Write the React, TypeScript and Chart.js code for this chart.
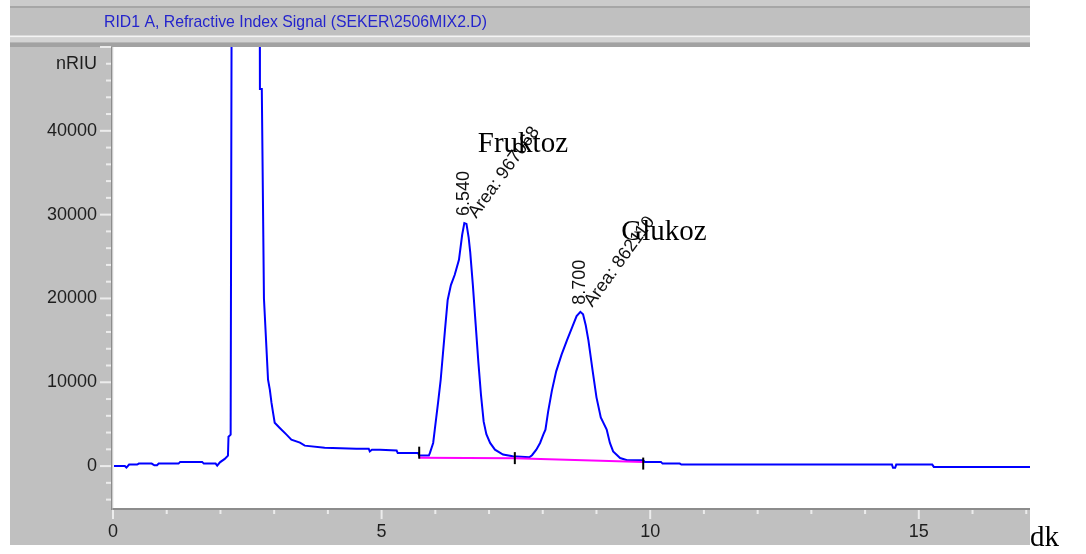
import { useEffect, useRef } from 'react';
import { Chart, registerables } from 'chart.js';

Chart.register(...registerables);

const TITLE = 'RID1 A, Refractive Index Signal (SEKER\\2506MIX2.D)';
const X_UNIT = 'dk';
const Y_UNIT = 'nRIU';

// RID signal: retention time (min) and response (nRIU)
const signalTime = [
  0, 0.22, 0.25, 0.3, 0.45, 0.48, 0.72, 0.77, 0.82, 0.85, 1.22, 1.25, 1.66, 1.69, 1.91, 1.94, 1.99, 2.08, 2.14,
  2.15, 2.19, 2.21, 2.73, 2.735, 2.77, 2.81, 2.886, 2.92, 2.95, 2.98, 3.01, 3.1, 3.23, 3.32, 3.48, 3.57,
  3.94, 4.53, 4.76, 4.78, 4.82, 4.97, 5.28, 5.3, 5.68, 5.7, 5.88, 5.9, 5.96, 5.99, 6.05, 6.1, 6.18, 6.23, 6.29,
  6.36, 6.44, 6.5, 6.54, 6.58, 6.62, 6.65, 6.7, 6.75, 6.8, 6.85, 6.9, 6.95, 7.02, 7.11, 7.26, 7.44, 7.75, 7.8, 7.88,
  7.95, 8.01, 8.05, 8.1, 8.17, 8.25, 8.35, 8.45, 8.55, 8.63, 8.7, 8.75, 8.8, 8.85, 8.93, 9.0, 9.08, 9.19, 9.25, 9.31,
  9.44, 9.57, 9.87, 9.9, 10.2, 10.23, 10.55, 10.58, 14.5, 14.52, 14.56, 14.58, 15.25, 15.28, 17.07,
];
const signalValue = [
  0, 0, -180, 180, 180, 300, 300, 100, 100, 300, 300, 500, 500, 300, 300, 60, 450, 860, 1250,
  3500, 3750, 60000, 60000, 45000, 45000, 20000, 10300, 9100, 7560, 6350, 5180, 4580, 3750, 3150, 2800, 2440,
  2200, 2080, 2080, 1750, 1950, 1950, 1850, 1550, 1550, 1250, 1250, 1570, 2760, 4350, 7500, 10300, 16250, 19820, 21600,
  22800, 24600, 27600, 29000, 28900, 27300, 25500, 21500, 17000, 12500, 8500, 5300, 3800, 2760, 1960, 1370, 1170, 1050, 1300, 1960,
  2760, 3750, 4350, 6500, 9000, 11300, 13300, 15000, 16600, 17900, 18400, 18100, 16800, 15000, 11300, 8200, 5800, 4350, 2760, 1750,
  960, 690, 690, 500, 500, 300, 300, 180, 180, -210, -210, 180, 180, -95, -95,
];

// integration baseline and peak start/end marks
const baselineTime = [5.7, 7.48, 9.87];
const baselineValue = [1000, 950, 480];
const markTime = [5.7, 7.48, 9.87];
const markValue = [1600, 950, 300];

// integrated peaks
const peakTime = [6.54, 8.7];
const peakHeight = [29000, 18400];
const peakArea = ['967068', '862110'];
const peakName = ['Fruktoz', 'Glukoz'];

// axis tick spacing
const Y_MINOR = 2000;
const Y_MAJOR = 10000;
const Y_UNIT_AT = 48000;
const X_MINOR = 1;
const X_MAJOR = 5;

const SANS = '"Liberation Sans", Arial, sans-serif';
const SERIF = '"Liberation Serif", "Times New Roman", serif';

const pts = (xs: number[], ys: number[]) => xs.map((x, i) => ({ x, y: ys[i] }));

// ticks on whole multiples of the step inside the axis range
const stepTicks = (scale: any, step: number) => {
  const out: { value: number }[] = [];
  const first = Math.ceil(scale.min / step) * step;
  for (let v = first; v <= scale.max + 1e-9; v += step) out.push({ value: Math.round(v * 1000) / 1000 });
  scale.ticks = out;
};

// grey instrument panel, header strip and white plotting field
const panelPlugin = {
  id: 'panel',
  beforeDraw(chart: any) {
    const { ctx, chartArea: a } = chart;
    const w = a.right - 10;
    ctx.save();
    ctx.fillStyle = '#c0c0c0';
    ctx.fillRect(10, 0, w, 545);
    ctx.fillStyle = '#cbcbcb';
    ctx.fillRect(10, 0, w, 6);
    ctx.fillStyle = '#a6a6a6';
    ctx.fillRect(10, 6, w, 2);
    ctx.fillStyle = '#f4f4f4';
    ctx.fillRect(10, 35.5, w, 2);
    ctx.fillStyle = '#d3d3d3';
    ctx.fillRect(10, 37.5, w, 5);
    ctx.fillStyle = '#a2a2a2';
    ctx.fillRect(10, 42.5, w, 4.5);
    ctx.fillStyle = '#ffffff';
    ctx.fillRect(a.left, a.top, a.right - a.left, a.bottom - a.top);
    ctx.font = `17px ${SANS}`;
    ctx.fillStyle = '#2424cc';
    ctx.textBaseline = 'middle';
    ctx.textAlign = 'left';
    ctx.fillText(TITLE, 104, 22.5, 383);
    ctx.restore();
  },
  afterDraw(chart: any) {
    const { ctx, chartArea: a, scales } = chart;
    const xs = scales.x;
    const ys = scales.y;
    ctx.save();
    // axis lines
    ctx.fillStyle = '#8c8c8c';
    ctx.fillRect(a.left - 2, a.top, 1.5, a.bottom - a.top + 2);
    ctx.fillRect(a.left, a.bottom, a.right - a.left, 2);
    ctx.fillStyle = '#f2f2f2';
    ctx.fillRect(a.left - 0.5, a.top, 1.5, a.bottom - a.top);
    // tick marks
    ctx.fillStyle = '#ececec';
    ys.ticks.forEach((t: any) => {
      const py = ys.getPixelForValue(t.value);
      const len = t.value % Y_MAJOR === 0 ? 11 : 5;
      ctx.fillRect(a.left - 2 - len, py - 1, len, 2);
    });
    xs.ticks.forEach((t: any) => {
      const px = xs.getPixelForValue(t.value);
      const len = t.value % X_MAJOR === 0 ? 9 : 4;
      ctx.fillRect(px - 1, a.bottom + 2, 2, len);
    });
    ctx.restore();
  },
};

// retention times, areas and compound names
const labelPlugin = {
  id: 'peakLabels',
  afterDatasetsDraw(chart: any) {
    const { ctx, chartArea: a, scales } = chart;
    const nameOffset = [
      [13.5, -71],
      [41, -72],
    ];
    ctx.save();
    peakTime.forEach((t, i) => {
      const px = scales.x.getPixelForValue(t);
      const py = scales.y.getPixelForValue(peakHeight[i]);
      ctx.fillStyle = '#111111';
      ctx.font = `18px ${SANS}`;
      ctx.textAlign = 'left';

      ctx.save();
      ctx.translate(px, py - 7);
      ctx.rotate(-Math.PI / 2);
      ctx.textBaseline = 'middle';
      ctx.fillText(t.toFixed(3), 0, 0);
      ctx.restore();

      ctx.save();
      ctx.translate(px + 12, py - 4);
      ctx.rotate((-54 * Math.PI) / 180);
      ctx.textBaseline = 'alphabetic';
      ctx.fillText(`Area: ${peakArea[i]}`, 0, 0);
      ctx.restore();

      ctx.fillStyle = '#000000';
      ctx.font = `29px ${SERIF}`;
      ctx.textBaseline = 'alphabetic';
      ctx.fillText(peakName[i], px + nameOffset[i][0], py + nameOffset[i][1]);
    });
    ctx.fillStyle = '#000000';
    ctx.font = `29px ${SERIF}`;
    ctx.textAlign = 'left';
    ctx.textBaseline = 'alphabetic';
    ctx.fillText(X_UNIT, a.right, 546);
    ctx.restore();
  },
};

export default function App() {
  const canvasRef = useRef<HTMLCanvasElement | null>(null);

  useEffect(() => {
    const canvas = canvasRef.current;
    if (!canvas) return;
    const chart = new Chart(canvas, {
      type: 'line',
      data: {
        datasets: [
          {
            label: 'marks',
            data: pts(markTime, markValue),
            showLine: false,
            pointStyle: 'line',
            pointRotation: 90,
            pointRadius: 6,
            pointBorderWidth: 2,
            pointBorderColor: '#000000',
            borderColor: '#000000',
          },
          {
            label: 'baseline',
            data: pts(baselineTime, baselineValue),
            borderColor: '#ff00ff',
            borderWidth: 2,
            pointRadius: 0,
          },
          {
            label: 'RID1 A',
            data: pts(signalTime, signalValue),
            borderColor: '#0000ff',
            borderWidth: 2,
            pointRadius: 0,
            tension: 0,
            clip: 0,
          },
        ],
      },
      options: {
        responsive: false,
        animation: false,
        devicePixelRatio: 1,
        layout: { padding: { top: 47, right: 56, left: 0, bottom: 0 } },
        plugins: {
          legend: { display: false },
          tooltip: { enabled: false },
          title: { display: false },
        },
        scales: {
          x: {
            type: 'linear',
            min: 0,
            max: 17.07,
            grid: { display: false, drawTicks: false },
            border: { display: false },
            afterBuildTicks: (s: any) => stepTicks(s, X_MINOR),
            afterFit: (s: any) => {
              s.height = 46;
            },
            ticks: {
              autoSkip: false,
              maxRotation: 0,
              padding: 13,
              color: '#1e1e1e',
              font: { family: SANS, size: 18 },
              callback: (v: any) => (Number(v) % X_MAJOR === 0 ? String(v) : ''),
            },
          },
          y: {
            type: 'linear',
            min: -5000,
            max: 50000,
            grid: { display: false, drawTicks: false },
            border: { display: false },
            afterBuildTicks: (s: any) => stepTicks(s, Y_MINOR),
            afterFit: (s: any) => {
              s.width = 113;
            },
            ticks: {
              autoSkip: false,
              padding: 16,
              color: '#1e1e1e',
              font: { family: SANS, size: 18 },
              callback: (v: any) => {
                const n = Number(v);
                if (n === Y_UNIT_AT) return Y_UNIT;
                return n < Y_UNIT_AT && n % Y_MAJOR === 0 ? String(n) : '';
              },
            },
          },
        },
      },
      plugins: [panelPlugin, labelPlugin],
    });
    return () => chart.destroy();
  }, []);

  return (
    <div style={{ position: 'absolute', left: 0, top: 0, width: 1086, height: 554 }}>
      <canvas ref={canvasRef} width={1086} height={554} style={{ display: 'block' }} />
    </div>
  );
}
